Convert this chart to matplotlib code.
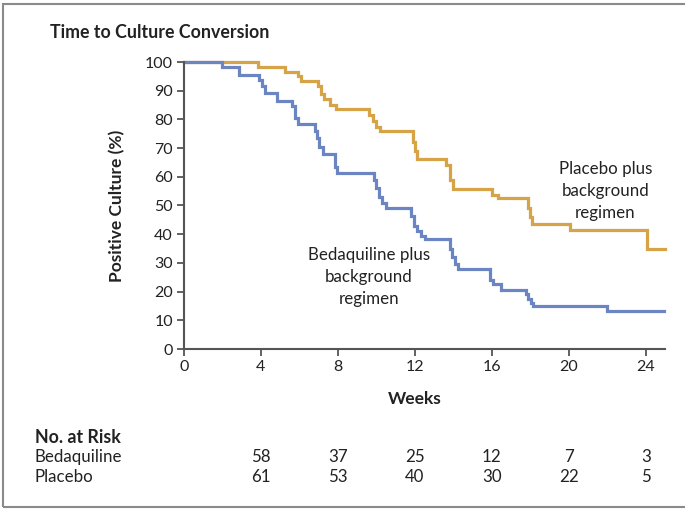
import matplotlib
matplotlib.use("Agg")
import matplotlib.pyplot as plt
import matplotlib.transforms as mtransforms
from matplotlib.patches import Rectangle

plt.rcParams['font.family'] = ['Lato', 'DejaVu Sans']

# Kaplan-Meier steps (week, % positive culture)
bdq_weeks = [0, 2.0, 2.85, 3.9, 4.05, 4.2, 4.85, 5.6, 5.75, 5.95, 6.8, 6.9, 7.0, 7.2,
             7.85, 7.95, 9.85, 10.0, 10.15, 10.3, 10.5, 11.8, 11.95, 12.1, 12.3, 12.5,
             13.85, 13.95, 14.1, 14.25, 15.9, 16.05, 16.5, 17.75, 17.9, 18.05, 18.15,
             22.0, 24.95]
bdq_pct = [100, 98.3, 95.5, 93.8, 91.5, 89.2, 86.5, 84.5, 80.5, 78.5, 76, 73.5, 70.5, 67.8,
           63.5, 61.3, 59, 56, 53, 51, 49.2, 46.5, 43, 41, 39.5, 38.5,
           35, 32, 29.5, 28, 24, 22.5, 20.6, 19, 17.5, 16, 15.1,
           13.2, 13.2]

pbo_weeks = [0, 3.87, 5.26, 5.9, 6.1, 6.95, 7.1, 7.3, 7.6, 7.9, 9.6, 9.8, 10.0, 10.2,
             11.9, 12.0, 12.1, 13.6, 13.8, 14.0, 16.0, 16.3, 17.9, 18.0, 18.1, 20.05,
             24.05, 25.0]
pbo_pct = [100, 98.4, 96.6, 95, 93.5, 91.5, 89, 87, 85, 83.7, 81.5, 79.5, 77.5, 75.8,
           72, 69, 66.2, 64, 59, 55.9, 53.8, 52.5, 49, 46, 43.5, 41.3,
           34.8, 34.8]

risk_weeks = [4, 8, 12, 16, 20, 24]
risk_bdq = [58, 37, 25, 12, 7, 3]
risk_pbo = [61, 53, 40, 30, 22, 5]

blue = '#6A85C2'
orange = '#D6A347'
axis_col = '#555555'
text_col = '#222222'

fig = plt.figure(figsize=(6.85, 5.11), dpi=100)
ax = fig.add_axes([184/685, 1-349/511, 481/685, 287/511])

ax.plot(pbo_weeks, pbo_pct, drawstyle='steps-post', color=orange, lw=2.3, clip_on=False,
        solid_joinstyle='miter')
ax.plot(bdq_weeks, bdq_pct, drawstyle='steps-post', color=blue, lw=2.3, clip_on=False,
        solid_joinstyle='miter')

ax.set_xlim(0, 25)
ax.set_ylim(0, 100)
ax.set_xticks(range(0, 25, 4))
ax.set_yticks(range(0, 101, 10))
for s in ['top', 'right']:
    ax.spines[s].set_visible(False)
for s in ['left', 'bottom']:
    ax.spines[s].set_color(axis_col)
    ax.spines[s].set_linewidth(1.5)
ax.tick_params(direction='out', length=5, width=1.3, color=axis_col,
               labelsize=11.5, labelcolor=text_col, pad=3)

ax.set_xlabel('Weeks', fontsize=12.5, fontweight='bold', color=text_col, labelpad=13)
ax.xaxis.set_label_coords(0.48, -0.145)
ax.set_ylabel('Positive Culture (%)', fontsize=12.5, fontweight='bold', color=text_col,
              labelpad=14)

ax.text(21.9, 55, 'Placebo plus\nbackground\nregimen', ha='center', va='center',
        fontsize=12.2, color=text_col, linespacing=1.45)
ax.text(9.6, 25, 'Bedaquiline plus\nbackground\nregimen', ha='center', va='center',
        fontsize=12.2, color=text_col, linespacing=1.45)

fig.text(50/685, 1-33/511, 'Time to Culture Conversion', fontsize=12.8,
         fontweight='bold', color=text_col, va='center', ha='left')

# number at risk table
fig.text(35/685, 1-437/511, 'No. at Risk', fontsize=12.8, fontweight='bold',
         color=text_col, va='center')
fig.text(35/685, 1-457/511, 'Bedaquiline', fontsize=12.2, color=text_col, va='center')
fig.text(35/685, 1-477/511, 'Placebo', fontsize=12.2, color=text_col, va='center')
trans = mtransforms.blended_transform_factory(ax.transData, fig.transFigure)
for w, b, p in zip(risk_weeks, risk_bdq, risk_pbo):
    fig.text(w, 1-457/511, str(b), transform=trans, ha='center', va='center',
             fontsize=12.2, color=text_col)
    fig.text(w, 1-477/511, str(p), transform=trans, ha='center', va='center',
             fontsize=12.2, color=text_col)

# outer frame
fig.patches.append(Rectangle((3/685, 1-507/511), 1.2, 503/511, transform=fig.transFigure,
                             fill=False, edgecolor='#8a8a8a', lw=1.5))

fig.savefig('out.png', dpi=100)
